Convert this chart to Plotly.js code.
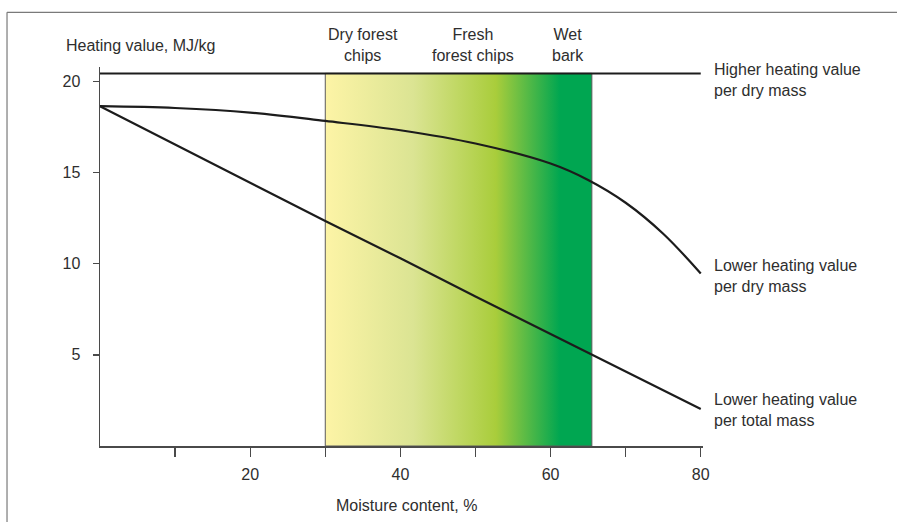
<!DOCTYPE html>
<html>
<head>
<meta charset="utf-8">
<script src="https://cdn.plot.ly/plotly-3.0.1.min.js"></script>
<style>html,body{margin:0;padding:0;background:#fff;}#chart{width:897px;height:522px;}</style>
</head>
<body>
<div id="chart"></div>
<script>
// Moisture content, %
const moistureHHV = [0, 80];
const higherHeatingDry = [20.45, 20.45];

const moistureLHVDry = [0, 10, 20, 30, 40, 50, 60, 65, 70, 75, 80];
const lowerHeatingDry = [18.65, 18.55, 18.3, 17.84, 17.33, 16.6, 15.5, 14.6, 13.35, 11.65, 9.47];

const moistureLHVTotal = [0, 10, 20, 30, 40, 50, 60, 70, 80];
const lowerHeatingTotal = [18.65, 16.55, 14.45, 12.35, 10.3, 8.2, 6.15, 4.1, 2.03];

// Fuel band (moisture range) from dry forest chips to wet bark
const bandMoisture = [30, 65.5];
const bandTop = 20.45;

const xTickVals = [10, 20, 30, 40, 50, 60, 70, 80];
const xTickText = ['', '20', '', '40', '', '60', '', '80'];
const yTickVals = [5, 10, 15, 20];
const yTickText = ['5', '10', '15', '20'];

const FONT = '"Liberation Sans", Arial, sans-serif';
const FS = 16;
const TXT = '#2e2e2e';
const LINE = '#1c1c1c';

const traces = [
  {
    x: [bandMoisture[0], bandMoisture[1], bandMoisture[1], bandMoisture[0], bandMoisture[0]],
    y: [0, 0, bandTop, bandTop, 0],
    mode: 'lines', fill: 'toself',
    line: {color: '#5a5a5a', width: 1},
    fillgradient: {
      type: 'horizontal',
      colorscale: [[0, '#fdf4a6'], [0.33, '#dbe493'], [0.64, '#a9cd3b'], [0.88, '#00a651'], [1, '#00a651']]
    },
    hoverinfo: 'skip', showlegend: false
  },
  {
    x: moistureHHV, y: higherHeatingDry, mode: 'lines',
    line: {color: LINE, width: 2}, showlegend: false
  },
  {
    x: moistureLHVDry, y: lowerHeatingDry, mode: 'lines',
    line: {color: LINE, width: 2.2, shape: 'spline', smoothing: 1}, showlegend: false
  },
  {
    x: moistureLHVTotal, y: lowerHeatingTotal, mode: 'lines',
    line: {color: LINE, width: 2.2}, showlegend: false
  }
];

function ann(text, x, y, xanchor) {
  return {text: text, x: x, y: y, xref: 'paper', yref: 'paper', xanchor: xanchor, yanchor: 'middle',
          showarrow: false, align: xanchor === 'left' ? 'left' : 'center',
          font: {family: FONT, size: FS, color: TXT}};
}

const layout = {
  width: 897, height: 522,
  margin: {l: 100, r: 194, t: 67, b: 76},
  paper_bgcolor: '#ffffff', plot_bgcolor: '#ffffff',
  font: {family: FONT, size: FS, color: TXT},
  showlegend: false,
  xaxis: {
    range: [0, 80.3], showgrid: false, zeroline: false,
    showline: true, linecolor: '#4a4a4a', linewidth: 1.5,
    tickmode: 'array', tickvals: xTickVals, ticktext: xTickText,
    ticks: 'outside', ticklen: 9, tickwidth: 1.3, tickcolor: '#4a4a4a',
    ticklabelstandoff: 4,
    tickfont: {family: FONT, size: FS, color: TXT}
  },
  yaxis: {
    range: [0, 20.8], showgrid: false, zeroline: false,
    showline: true, linecolor: '#4a4a4a', linewidth: 1.5,
    tickmode: 'array', tickvals: yTickVals, ticktext: yTickText,
    ticks: 'outside', ticklen: 6, tickwidth: 1.3, tickcolor: '#4a4a4a',
    ticklabelstandoff: 9,
    tickfont: {family: FONT, size: FS, color: TXT}
  },
  annotations: [
    ann('Heating value, MJ/kg', -0.0597, 1.057, 'left'),
    ann('Dry forest<br>chips', 0.436, 1.057, 'center'),
    ann('Fresh<br>forest chips', 0.6186, 1.057, 'center'),
    ann('Wet<br>bark', 0.776, 1.057, 'center'),
    ann('Higher heating value<br>per dry mass', 1.015, 0.966, 'left'),
    ann('Lower heating value<br>per dry mass', 1.015, 0.448, 'left'),
    ann('Lower heating value<br>per total mass', 1.015, 0.0955, 'left'),
    ann('Moisture content, %', 0.508, -0.156, 'center')
  ],
  shapes: [
    {type: 'line', xref: 'paper', yref: 'paper', x0: -0.1542, x1: -0.1542, y0: 1.1443, y1: -0.21,
     line: {color: '#7a7a7a', width: 1.2}},
    {type: 'line', xref: 'paper', yref: 'paper', x0: -0.1542, x1: 1.33, y0: 1.1443, y1: 1.1443,
     line: {color: '#7a7a7a', width: 1.2}}
  ]
};

Plotly.newPlot('chart', traces, layout, {displayModeBar: false, staticPlot: true});
</script>
</body>
</html>
